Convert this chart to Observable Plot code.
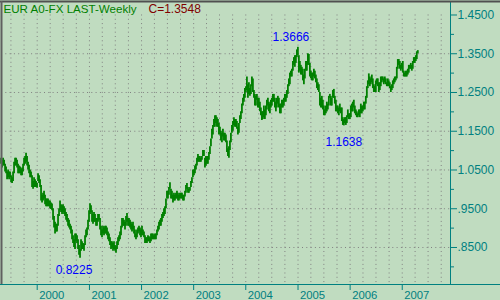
<!DOCTYPE html>
<html><head><meta charset="utf-8">
<script src="https://cdn.jsdelivr.net/npm/d3@7"></script>
<script src="https://cdn.jsdelivr.net/npm/@observablehq/plot@0.6"></script>
<style>
html,body{margin:0;padding:0;background:#c0dcc0;}
#chart{position:relative;width:500px;height:300px;overflow:hidden;}
#chart svg{display:block;}
</style></head><body><div id="chart"></div>
<script>
// ---- data ----
const title = "EUR A0-FX LAST-Weekly";
const lastClose = "C=1.3548";
const firstWeek = "1999-04-23"; // weekly bars, one per Friday from here
// [low, high] per week
const weeklyRange = [
// 1999
[1.065,1.080],[1.055,1.075],[1.060,1.080],[1.060,1.075],[1.045,1.065],[1.040,1.058],
[1.025,1.045],[1.030,1.050],[1.025,1.045],[1.030,1.045],
[1.018,1.035],[1.015,1.030],[1.020,1.045],[1.040,1.070],[1.060,1.080],
[1.060,1.080],[1.055,1.075],[1.040,1.065],[1.040,1.060],
[1.040,1.058],[1.035,1.052],[1.035,1.055],[1.045,1.065],
[1.060,1.080],[1.065,1.085],[1.070,1.093],[1.060,1.085],[1.050,1.070],
[1.040,1.062],[1.030,1.050],[1.030,1.045],[1.005,1.035],
[1.000,1.020],[1.005,1.030],[1.005,1.025],[1.005,1.020],[1.003,1.015],
// 2000
[1.020,1.040],[1.015,1.035],[1.005,1.025],[0.970,1.010],
[0.965,0.985],[0.970,0.990],[0.975,0.995],[0.960,0.985],
[0.955,0.975],[0.955,0.975],[0.955,0.975],[0.955,0.970],[0.950,0.970],
[0.948,0.965],[0.945,0.962],[0.920,0.950],[0.900,0.930],
[0.885,0.915],[0.890,0.910],[0.890,0.910],[0.905,0.935],
[0.930,0.950],[0.945,0.970],[0.940,0.960],[0.935,0.958],[0.940,0.960],
[0.935,0.955],[0.930,0.950],[0.920,0.940],[0.915,0.935],
[0.905,0.925],[0.900,0.920],[0.895,0.910],[0.885,0.905],
[0.870,0.895],[0.860,0.880],[0.850,0.870],[0.845,0.885],[0.865,0.885],
[0.860,0.880],[0.845,0.870],[0.830,0.855],[0.8225,0.845],
[0.840,0.870],[0.845,0.865],[0.845,0.860],[0.840,0.858],
[0.855,0.880],[0.875,0.895],[0.880,0.900],[0.895,0.920],[0.915,0.945],
// 2001
[0.935,0.963],[0.940,0.958],[0.915,0.945],[0.910,0.935],
[0.915,0.940],[0.915,0.935],[0.905,0.925],[0.905,0.925],
[0.915,0.935],[0.920,0.935],[0.895,0.925],[0.880,0.905],[0.875,0.895],
[0.885,0.905],[0.880,0.900],[0.885,0.905],[0.885,0.905],
[0.880,0.900],[0.870,0.890],[0.865,0.885],[0.855,0.875],
[0.845,0.865],[0.848,0.865],[0.840,0.860],[0.845,0.865],[0.840,0.855],
[0.835,0.852],[0.845,0.865],[0.855,0.875],[0.865,0.880],
[0.870,0.890],[0.880,0.905],[0.900,0.925],[0.905,0.925],[0.905,0.920],
[0.895,0.915],[0.905,0.930],[0.915,0.938],[0.905,0.925],
[0.905,0.925],[0.900,0.920],[0.895,0.915],[0.890,0.910],
[0.895,0.915],[0.885,0.905],[0.875,0.895],[0.870,0.885],[0.875,0.895],
[0.885,0.900],[0.890,0.905],[0.880,0.900],[0.875,0.895],
// 2002
[0.880,0.905],[0.880,0.895],[0.875,0.890],[0.860,0.880],
[0.860,0.875],[0.860,0.875],[0.865,0.880],[0.865,0.878],
[0.860,0.875],[0.865,0.885],[0.870,0.885],[0.870,0.885],[0.870,0.880],
[0.870,0.885],[0.870,0.885],[0.880,0.895],[0.890,0.905],
[0.895,0.915],[0.905,0.920],[0.905,0.925],[0.915,0.935],[0.925,0.940],
[0.930,0.950],[0.935,0.955],[0.950,0.975],[0.975,0.995],
[0.975,0.995],[0.985,1.005],[1.000,1.017],[0.975,1.000],
[0.975,0.995],[0.965,0.985],[0.970,0.990],[0.970,0.985],[0.975,0.990],
[0.975,0.995],[0.970,0.990],[0.970,0.985],[0.975,0.990],
[0.975,0.990],[0.975,0.990],[0.970,0.985],[0.970,0.985],
[0.980,0.995],[0.990,1.010],[1.000,1.015],[0.990,1.005],[0.990,1.000],
[0.995,1.005],[1.005,1.020],[1.015,1.030],[1.030,1.050],
// 2003
[1.035,1.050],[1.040,1.060],[1.050,1.065],[1.060,1.080],[1.070,1.090],
[1.070,1.085],[1.070,1.085],[1.070,1.080],[1.075,1.085],
[1.085,1.100],[1.085,1.100],[1.055,1.080],[1.060,1.085],
[1.065,1.085],[1.065,1.085],[1.075,1.095],[1.090,1.110],
[1.110,1.130],[1.130,1.155],[1.140,1.165],[1.160,1.180],[1.160,1.190],
[1.170,1.190],[1.160,1.185],[1.160,1.180],[1.140,1.170],
[1.140,1.160],[1.125,1.150],[1.120,1.145],[1.135,1.155],
[1.125,1.145],[1.125,1.145],[1.120,1.140],[1.095,1.125],[1.085,1.105],
[1.080,1.110],[1.100,1.125],[1.120,1.145],[1.145,1.165],
[1.150,1.175],[1.165,1.185],[1.160,1.180],[1.160,1.180],[1.155,1.175],
[1.140,1.160],[1.145,1.170],[1.170,1.190],[1.180,1.200],
[1.195,1.220],[1.215,1.235],[1.225,1.245],[1.235,1.260],
// 2004
[1.250,1.265],[1.255,1.290],[1.235,1.270],[1.245,1.275],[1.240,1.260],
[1.245,1.270],[1.265,1.290],[1.250,1.285],[1.235,1.255],
[1.215,1.245],[1.215,1.240],[1.230,1.245],[1.210,1.235],
[1.210,1.235],[1.200,1.225],[1.190,1.210],[1.178,1.200],[1.180,1.200],
[1.185,1.215],[1.180,1.205],[1.190,1.215],[1.205,1.230],
[1.215,1.235],[1.200,1.225],[1.195,1.220],[1.210,1.230],
[1.215,1.235],[1.225,1.245],[1.225,1.245],[1.210,1.235],[1.200,1.225],
[1.210,1.235],[1.220,1.240],[1.210,1.235],[1.195,1.220],
[1.195,1.220],[1.210,1.230],[1.210,1.230],[1.215,1.235],
[1.225,1.245],[1.225,1.245],[1.235,1.255],[1.245,1.270],[1.265,1.285],
[1.270,1.300],[1.290,1.305],[1.290,1.310],[1.305,1.330],
[1.320,1.340],[1.315,1.345],[1.325,1.345],[1.340,1.360],[1.345,1.3666],
// 2005
[1.300,1.345],[1.305,1.330],[1.295,1.320],[1.295,1.315],
[1.280,1.310],[1.270,1.295],[1.285,1.310],[1.305,1.330],
[1.305,1.330],[1.320,1.350],[1.320,1.348],[1.290,1.325],
[1.285,1.305],[1.280,1.300],[1.280,1.300],[1.290,1.310],[1.285,1.305],
[1.275,1.295],[1.260,1.285],[1.255,1.275],[1.250,1.270],
[1.215,1.250],[1.210,1.235],[1.210,1.240],[1.205,1.230],
[1.190,1.215],[1.190,1.205],[1.195,1.215],[1.200,1.225],[1.205,1.220],
[1.215,1.240],[1.235,1.245],[1.215,1.240],[1.215,1.235],
[1.235,1.255],[1.235,1.258],[1.220,1.240],[1.200,1.230],[1.200,1.215],
[1.195,1.215],[1.190,1.210],[1.200,1.220],[1.195,1.210],
[1.175,1.210],[1.165,1.185],[1.1638,1.180],[1.170,1.185],
[1.165,1.185],[1.170,1.190],[1.185,1.205],[1.180,1.195],[1.180,1.195],
// 2006
[1.185,1.215],[1.200,1.220],[1.200,1.225],[1.210,1.230],
[1.195,1.215],[1.190,1.205],[1.185,1.200],[1.185,1.195],
[1.190,1.205],[1.185,1.205],[1.195,1.220],[1.195,1.215],[1.200,1.215],
[1.205,1.225],[1.205,1.225],[1.220,1.240],[1.235,1.265],
[1.260,1.280],[1.270,1.298],[1.265,1.290],[1.270,1.285],
[1.275,1.295],[1.260,1.285],[1.250,1.270],[1.250,1.265],[1.250,1.280],
[1.270,1.285],[1.265,1.285],[1.250,1.275],[1.255,1.275],
[1.265,1.290],[1.275,1.290],[1.280,1.290],[1.270,1.285],
[1.275,1.290],[1.270,1.285],[1.265,1.275],[1.265,1.285],[1.265,1.280],
[1.260,1.275],[1.250,1.265],[1.255,1.270],[1.260,1.280],
[1.270,1.285],[1.275,1.290],[1.280,1.290],[1.285,1.315],
[1.310,1.335],[1.320,1.335],[1.310,1.330],[1.305,1.320],[1.310,1.325],
// 2007
[1.300,1.330],[1.290,1.305],[1.290,1.300],[1.290,1.305],
[1.290,1.305],[1.295,1.310],[1.300,1.320],[1.310,1.320],
[1.310,1.325],[1.305,1.320],[1.310,1.330],[1.325,1.340],[1.325,1.340],
[1.330,1.345],[1.335,1.355],[1.350,1.358]
];
const yTicks = [0.85, 0.95, 1.05, 1.15, 1.25, 1.35, 1.45];
const yTickLabels = [".8500", ".9500", "1.0500", "1.1500", "1.2500", "1.3500", "1.4500"];
const yMinorTicks = [0.80, 0.90, 1.00, 1.10, 1.20, 1.30, 1.40];
const yGrid = [0.85, 0.95, 1.05, 1.15, 1.25, 1.35];
const years = ["2000", "2001", "2002", "2003", "2004", "2005", "2006", "2007"];
const peak = {date: "2004-12-31", value: 1.3666, label: "1.3666"};
const low2000 = {date: "2000-10-27", value: 0.8225, label: "0.8225"};
const low2005 = {date: "2005-11-18", value: 1.1638, label: "1.1638"};

// ---- chart ----
const teal = "#008080";
const gridColor = "#808080";
const xDomain = [new Date("1999-04-26"), new Date("2007-12-05")];
const yDomain = [0.7545, 1.4848];
const start = new Date(firstWeek);
const bars = weeklyRange.map(([lo, hi], i) => ({date: d3.utcDay.offset(start, 7 * i), lo, hi}));
const yearStarts = years.map(y => new Date(y + "-01-01"));
const quarterStarts = d3.utcMonth.every(3).range(new Date("1999-07-01"), xDomain[1]);
const ann = a => [{...a, date: new Date(a.date)}];

const chart = Plot.plot({
  width: 500, height: 300,
  marginLeft: 1, marginRight: 50, marginTop: 1, marginBottom: 16,
  style: {background: "#c0dcc0", fontFamily: "'Liberation Sans', Arial, sans-serif", fontSize: "12px", overflow: "visible"},
  x: {type: "utc", domain: xDomain, label: null},
  y: {domain: yDomain, label: null},
  marks: [
    Plot.ruleY(yGrid, {stroke: gridColor, strokeDasharray: "1,3.3"}),
    Plot.ruleX(quarterStarts, {y1: yTicks[yTicks.length - 1], y2: yDomain[0], stroke: gridColor, strokeDasharray: "1,3.3"}),
    Plot.ruleX(bars, {x: "date", y1: "lo", y2: "hi", stroke: "#008000", strokeWidth: 1.8}),
    Plot.ruleX([xDomain[1]], {stroke: teal}),
    Plot.ruleY([yDomain[0]], {stroke: teal, insetLeft: -1, insetRight: -50}),
    Plot.ruleY([yDomain[1]], {stroke: "#505050", strokeWidth: 2, insetLeft: -1, insetRight: -50}),
    Plot.ruleX([xDomain[0]], {stroke: "#606060", strokeWidth: 2}),
    Plot.axisY({anchor: "right", ticks: yTicks, tickFormat: d => yTickLabels[yTicks.indexOf(d)], tickSize: 6, tickPadding: 1, stroke: teal, fill: teal, label: null}),
    Plot.axisY({anchor: "right", ticks: yMinorTicks, tickFormat: () => "", tickSize: 3, stroke: teal, label: null}),
    Plot.axisX({anchor: "bottom", ticks: yearStarts, tickFormat: () => "", tickSize: 6, stroke: teal, label: null}),
    Plot.text(yearStarts, {x: d => d, text: d => String(d.getUTCFullYear()), frameAnchor: "bottom", dx: 2, dy: 6.5, lineAnchor: "top", textAnchor: "start", fill: teal, fontSize: 11.3}),
    Plot.text(ann(peak), {x: "date", y: "value", text: "label", dx: -7, dy: -10, fill: "#0000ff"}),
    Plot.text(ann(low2000), {x: "date", y: "value", text: "label", dx: -6, dy: 12, fill: "#0000ff"}),
    Plot.text(ann(low2005), {x: "date", y: "value", text: "label", dx: 0, dy: 16, fill: "#0000ff"}),
    Plot.text([title], {frameAnchor: "top-left", text: d => d, dx: 2, dy: 3, lineAnchor: "top", textAnchor: "start", fill: "#008000", fontSize: 11.6}),
    Plot.text([lastClose], {frameAnchor: "top-left", text: d => d, dx: 147, dy: 3, lineAnchor: "top", textAnchor: "start", fill: "#800000", fontSize: 12})
  ]
});
document.getElementById("chart").appendChild(chart);
</script></body></html>
